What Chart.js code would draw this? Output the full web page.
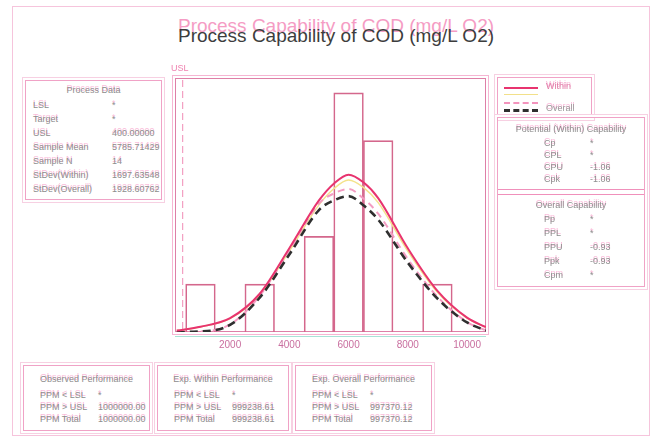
<!DOCTYPE html>
<html>
<head>
<meta charset="utf-8">
<script src="https://cdn.jsdelivr.net/npm/chart.js@4.4.1/dist/chart.umd.min.js"></script>
<style>
  body { margin: 0; background: #fff; width: 654px; height: 440px; overflow: hidden; font-family: "Liberation Sans", Arial, sans-serif; }
  #page { position: relative; width: 654px; height: 440px; }
  .frame { position: absolute; left: 12px; top: 6px; width: 638px; height: 430px; border: 1px solid #f6c4dc; box-sizing: border-box; }
  .title { position: absolute; left: 0; width: 672px; text-align: center; font-size: 19px; white-space: nowrap; }
  .box { position: absolute; border: 1px solid #f0a2c6; box-shadow: 0 0 0 2px #fff, 0 0 0 3px #f7d0e2; box-sizing: border-box; color: #8d8d8d; font-size: 9px; }
  .box .t { position: absolute; left: 0; right: 0; text-align: center; text-shadow: 0 -2px 0 rgba(244, 130, 185, 0.55); white-space: nowrap; }
  .box .l, .box .v { position: absolute; white-space: nowrap; text-shadow: 0 -2px 0 rgba(244, 130, 185, 0.55); }
  .hr { position: absolute; left: 0; right: 0; height: 0; border-top: 1px solid #f090bb; }
  .lg { position: absolute; height: 0; width: 34px; }
  canvas { position: absolute; left: 165px; top: 60px; }
</style>
</head>
<body>
<div id="page">
  <div class="frame"></div>
  <div class="title" style="top:15px;color:#f59cc4;">Process Capability of COD (mg/L O2)</div>
  <div class="title" style="top:25px;color:#3d3d3d;">Process Capability of COD (mg/L O2)</div>
  <canvas id="chart" width="335" height="302"></canvas>
</div>
<script>
// histogram (bin centres, counts)
const binCenters = [1000, 3000, 5000, 6000, 7000, 9000];
const binCounts = [1, 1, 2, 5, 4, 1];

// fitted curves (count units)
const curveX = [200, 1000, 2000, 3000, 4000, 5000, 5500, 6000, 6500, 7000, 8000, 9000, 10000, 10640];
const withinCurve = [0.03, 0.11, 0.29, 0.8, 1.75, 2.75, 3.1, 3.29, 3.13, 2.8, 1.75, 0.86, 0.3, 0.1];
const overallCurve = [0.0, 0.01, 0.15, 0.72, 1.62, 2.55, 2.75, 2.84, 2.65, 2.35, 1.45, 0.7, 0.2, 0.03];

const tickValues = [2000, 4000, 6000, 8000, 10000];
const uslValue = 400;
const xMin = 140, xMax = 10640;

const processLabels = ['LSL', 'Target', 'USL', 'Sample Mean', 'Sample N', 'StDev(Within)', 'StDev(Overall)'];
const processValues = ['*', '*', '400.00000', '5785.71429', '14', '1697.63548', '1928.60762'];
const withinLabels = ['Cp', 'CPL', 'CPU', 'Cpk'];
const withinValues = ['*', '*', '-1.06', '-1.06'];
const overallLabels = ['Pp', 'PPL', 'PPU', 'Ppk', 'Cpm'];
const overallValues = ['*', '*', '-0.93', '-0.93', '*'];
const perfLabels = ['PPM < LSL', 'PPM > USL', 'PPM Total'];
const observedValues = ['*', '1000000.00', '1000000.00'];
const expWithinValues = ['*', '999238.61', '999238.61'];
const expOverallValues = ['*', '997370.12', '997370.12'];

const page = document.getElementById('page');

function addBox(x, y, w, h) {
    const b = document.createElement('div');
    b.className = 'box';
    b.style.left = x + 'px'; b.style.top = y + 'px';
    b.style.width = w + 'px'; b.style.height = h + 'px';
    page.appendChild(b);
    return b;
}

function addText(box, cls, text, x, y) {
    const d = document.createElement('div');
    d.className = cls;
    d.textContent = text;
    if (x !== null) d.style.left = x + 'px';
    d.style.top = y + 'px';
    box.appendChild(d);
}

function addRows(box, labels, values, lx, vx, y0, dy) {
    labels.forEach((lab, i) => {
        addText(box, 'l', lab, lx, y0 + i * dy);
        addText(box, 'v', values[i], vx, y0 + i * dy);
    });
}

// Process Data
let box = addBox(25, 80, 137, 120);
addText(box, 't', 'Process Data', null, 4);
addRows(box, processLabels, processValues, 7, 86, 19, 14);

// legend
box = addBox(497, 77, 95, 41);
[
    { top: 9, style: '2px solid #e8346f', text: 'Within', color: '#e07aa6' },
    { top: 16, style: '1px solid #f2e08a', text: '', color: '' },
    { top: 24, style: '2px dashed #f394bd', text: '', color: '' },
    { top: 31, style: '3px dashed #2e2e2e', text: 'Overall', color: '#9a9a9a' }
].forEach(r => {
    const d = document.createElement('div');
    d.className = 'lg';
    d.style.left = '6px'; d.style.top = r.top + 'px'; d.style.borderTop = r.style;
    box.appendChild(d);
    if (r.text) {
        const t = document.createElement('div');
        t.className = 'l';
        t.textContent = r.text;
        t.style.left = '48px'; t.style.top = (r.top - 6) + 'px'; t.style.color = r.color;
        box.appendChild(t);
    }
});

// capability
box = addBox(497, 117, 148, 170);
addText(box, 't', 'Potential (Within) Capability', null, 6);
addRows(box, withinLabels, withinValues, 46, 92, 20, 12);
const hr1 = document.createElement('div'); hr1.className = 'hr'; hr1.style.top = '71px'; box.appendChild(hr1);
const hr2 = document.createElement('div'); hr2.className = 'hr'; hr2.style.top = '76px'; box.appendChild(hr2);
addText(box, 't', 'Overall Capability', null, 82);
addRows(box, overallLabels, overallValues, 46, 92, 96, 14);

// performance
[[23, 127, 'Observed Performance', observedValues],
 [157, 132, 'Exp. Within Performance', expWithinValues],
 [295, 137, 'Exp. Overall Performance', expOverallValues]].forEach(([x, w, title, vals]) => {
    const b = addBox(x, 365, w, 66);
    addText(b, 't', title, null, 8);
    addRows(b, perfLabels, vals, 16, 74, 24, 12);
});

const framePlugin = {
    id: 'frame',
    beforeDatasetsDraw(chart) {
        const { ctx, chartArea: a, scales: { x } } = chart;
        ctx.save();
        ctx.lineWidth = 1;
        ctx.strokeStyle = '#f6b6d3';
        ctx.strokeRect(a.left - 2.5, a.top - 2.5, a.width + 5, a.height + 5);
        ctx.strokeStyle = '#de7fa7';
        ctx.strokeRect(a.left + 0.5, a.top + 0.5, a.width - 1, a.height - 1);
        ctx.strokeStyle = '#a8e3d6';
        ctx.beginPath(); ctx.moveTo(a.left, a.bottom + 4.5); ctx.lineTo(a.right, a.bottom + 4.5); ctx.stroke();
        const ux = x.getPixelForValue(uslValue);
        ctx.setLineDash([7, 4]);
        ctx.strokeStyle = '#f08cb6';
        ctx.beginPath(); ctx.moveTo(ux, a.top + 2); ctx.lineTo(ux, a.bottom); ctx.stroke();
        ctx.setLineDash([]);
        ctx.fillStyle = '#ef82b0';
        ctx.font = '9px "Liberation Sans"';
        ctx.textAlign = 'center';
        ctx.fillText('USL', ux - 3, a.top - 7);
        ctx.restore();
    }
};

const yMax = 5.31;
const pts = arr => arr.map((v, i) => ({ x: curveX[i], y: v }));

new Chart(document.getElementById('chart'), {
    type: 'bar',
    data: {
        datasets: [
            {
                type: 'bar',
                data: binCenters.map((c, i) => ({ x: c, y: binCounts[i] })),
                backgroundColor: 'rgba(0,0,0,0)',
                borderColor: '#d4678c',
                borderWidth: 1,
                barPercentage: 1,
                categoryPercentage: 1,
                order: 10
            },
            {
                type: 'line', data: pts(withinCurve), yAxisID: 'yg',
                borderColor: '#f4e38c', borderWidth: 1.5, pointRadius: 0,
                cubicInterpolationMode: 'monotone', order: 6
            },
            {
                type: 'line', data: pts(overallCurve), yAxisID: 'yp',
                borderColor: '#f39cc2', borderWidth: 2, borderDash: [7, 5], pointRadius: 0,
                cubicInterpolationMode: 'monotone', order: 5
            },
            {
                type: 'line', data: pts(overallCurve),
                borderColor: '#2f2f2f', borderWidth: 2.6, borderDash: [8, 5], pointRadius: 0,
                cubicInterpolationMode: 'monotone', order: 2
            },
            {
                type: 'line', data: pts(withinCurve),
                borderColor: '#e8346f', borderWidth: 2, pointRadius: 0,
                cubicInterpolationMode: 'monotone', order: 1
            }
        ]
    },
    options: {
        responsive: false,
        animation: false,
        layout: { padding: { left: 10, right: 14, top: 18, bottom: 4 } },
        plugins: { legend: { display: false }, tooltip: { enabled: false } },
        scales: {
            x: {
                type: 'linear', min: xMin, max: xMax, offset: false,
                afterBuildTicks: axis => { axis.ticks = tickValues.map(v => ({ value: v })); },
                grid: { display: false, drawTicks: false },
                border: { display: false },
                ticks: { padding: 7, maxRotation: 0, autoSkip: false, callback: v => String(v),
                         color: '#c96f9f', font: { size: 10, family: 'Liberation Sans' } }
            },
            y: { display: false, min: 0, max: yMax },
            yg: { display: false, min: 0, max: yMax * 1.035 },
            yp: { display: false, min: 0, max: yMax * 0.95 }
        }
    },
    plugins: [framePlugin]
});
</script>
</body>
</html>
